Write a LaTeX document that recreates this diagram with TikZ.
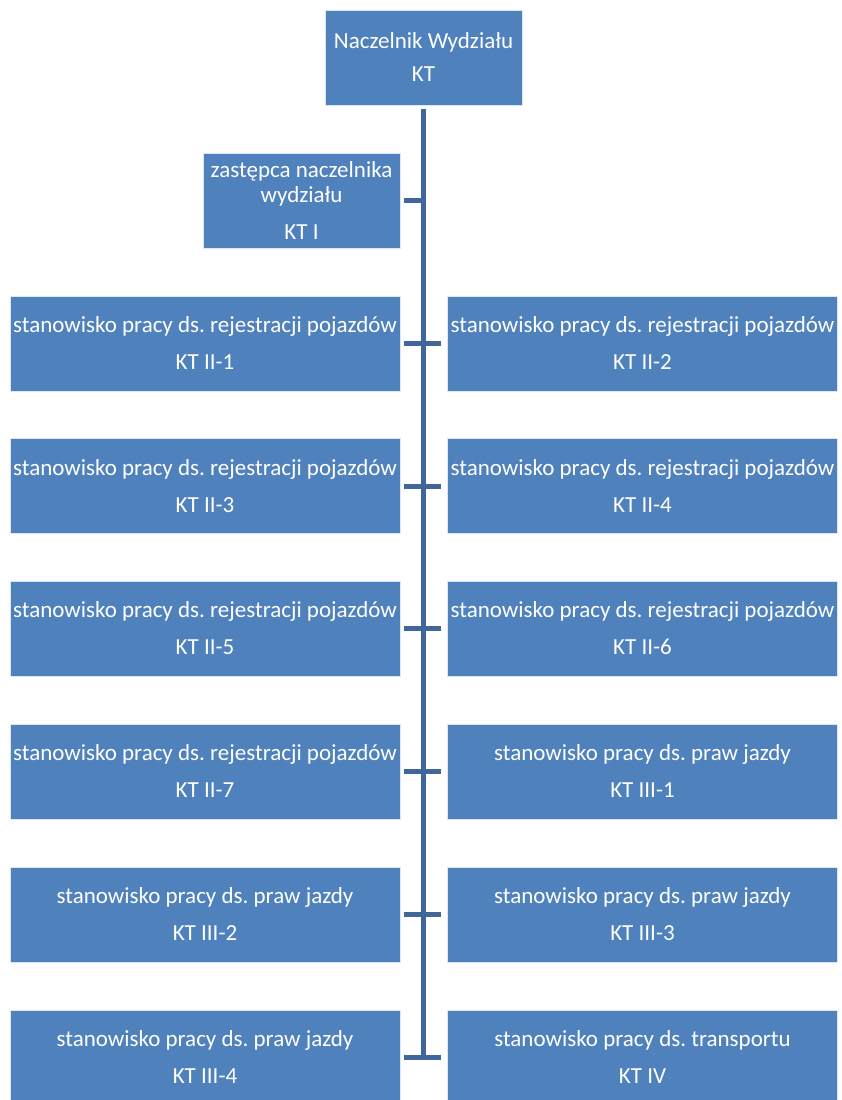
\documentclass[tikz,border=0pt]{standalone}
\usepackage{fontspec}
\setmainfont{Carlito}
\frenchspacing
\definecolor{boxblue}{HTML}{4F81BD}
\definecolor{lineblue}{HTML}{41679A}
\definecolor{edge}{HTML}{DCE6F2}
\begin{document}
\begin{tikzpicture}[x=1pt,y=-1pt,
  orgbox/.style={draw=edge,line width=0.8pt,fill=boxblue,text=white,inner sep=0pt,
    align=center,font=\fontsize{23}{25}\selectfont\frenchspacing},
  wide/.style={orgbox,minimum width=390pt,minimum height=95pt},
  conn/.style={draw=lineblue,line width=5pt}]
\useasboundingbox (0,0) rectangle (842,1100);
\clip (0,0) rectangle (842,1100);
\node[orgbox,minimum width=197pt,minimum height=95pt] (top) at (423.5,57.5) {Naczelnik Wydziału\\[8pt]KT};
\node[orgbox,minimum width=197pt,minimum height=95pt] (dep) at (301.5,200.5) {zastępca naczelnika\\wydziału\\[12pt]KT I};
\node[wide] (l1) at (205,343.5) {stanowisko pracy ds. rejestracji pojazdów\\[12pt]KT II-1};
\node[wide] (r1) at (642.5,343.5) {stanowisko pracy ds. rejestracji pojazdów\\[12pt]KT II-2};
\node[wide] (l2) at (205,486) {stanowisko pracy ds. rejestracji pojazdów\\[12pt]KT II-3};
\node[wide] (r2) at (642.5,486) {stanowisko pracy ds. rejestracji pojazdów\\[12pt]KT II-4};
\node[wide] (l3) at (205,628.5) {stanowisko pracy ds. rejestracji pojazdów\\[12pt]KT II-5};
\node[wide] (r3) at (642.5,628.5) {stanowisko pracy ds. rejestracji pojazdów\\[12pt]KT II-6};
\node[wide] (l4) at (205,771.5) {stanowisko pracy ds. rejestracji pojazdów\\[12pt]KT II-7};
\node[wide] (r4) at (642.5,771.5) {stanowisko pracy ds. praw jazdy\\[12pt]KT III-1};
\node[wide] (l5) at (205,914.5) {stanowisko pracy ds. praw jazdy\\[12pt]KT III-2};
\node[wide] (r5) at (642.5,914.5) {stanowisko pracy ds. praw jazdy\\[12pt]KT III-3};
\node[wide] (l6) at (205,1057.5) {stanowisko pracy ds. praw jazdy\\[12pt]KT III-4};
\node[wide] (r6) at (642.5,1057.5) {stanowisko pracy ds. transportu\\[12pt]KT IV};
\coordinate (bot) at (423,1057.5);
\coordinate (depj) at (423,200.5);
\draw[conn,shorten <=4pt] (top.south -| bot) -- (bot);
\draw[conn,shorten <=4pt] (dep.east) -- (depj);
\foreach \i in {1,...,6}{
  \draw[conn,shorten <=4pt,shorten >=6pt] (l\i.east) -- (r\i.west);
}
\end{tikzpicture}
\end{document}
